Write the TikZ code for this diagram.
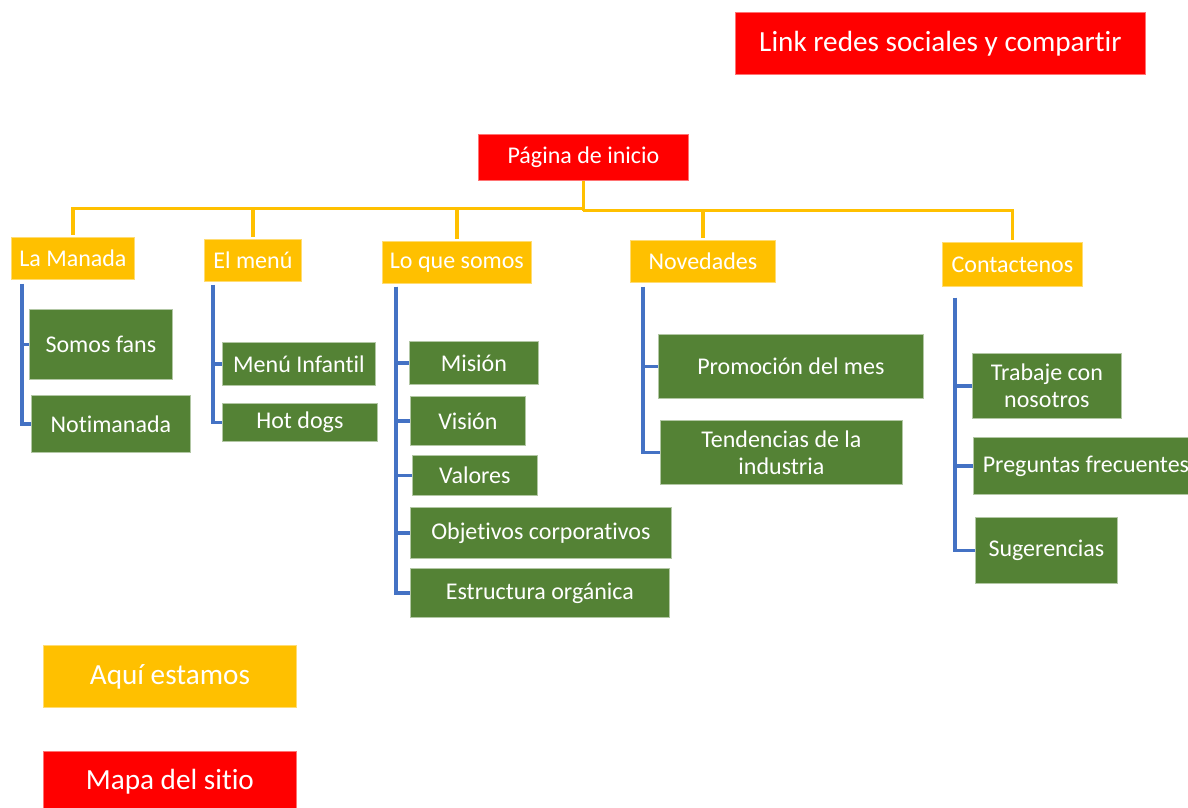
\documentclass[tikz,border=0pt]{standalone}
\usepackage{fontspec}
\setmainfont{Carlito}[Ligatures={NoCommon}]
\definecolor{cRed}{HTML}{FF0000}
\definecolor{cYel}{HTML}{FFC000}
\definecolor{cGrn}{HTML}{548235}
\definecolor{cBlu}{HTML}{4472C4}
\tikzset{
  box/.style={anchor=north west, inner sep=0pt, text=white, align=center, line width=0.8pt,
    font=\fontsize{24}{27}\selectfont},
  rbox/.style={box, fill=cRed, draw=cRed!55!white},
  ybox/.style={box, fill=cYel, draw=cYel!55!white},
  gbox/.style={box, fill=cGrn, draw=cGrn!45!white},
  big/.style={font=\fontsize{29.2}{32}\selectfont},
  yl/.style={draw=cYel, line width=3.2pt},
  bl/.style={draw=cBlu, line width=3.2pt},
}
\begin{document}
\begin{tikzpicture}[x=1pt, y=-1pt]
\useasboundingbox (0,0) rectangle (1188,808);
% top and bottom red/yellow boxes
\node[rbox, big, minimum width=410, minimum height=62] (lr) at (735,12) {Link redes sociales y compartir};
\node[ybox, big, minimum width=253, minimum height=62] (aq) at (43,645) {Aquí estamos};
\node[rbox, big, minimum width=253, minimum height=60] (ms) at (43,751) {Mapa del sitio};
% root
\node[rbox, minimum width=210, minimum height=46] (pi) at (478,134) {Página de inicio};
% level 1
\node[ybox, minimum width=123, minimum height=42] (lm) at (11,237) {La Manada};
\node[ybox, minimum width=97, minimum height=42] (em) at (204,239) {El menú};
\node[ybox, minimum width=149, minimum height=42] (lq) at (382,241) {Lo que somos};
\node[ybox, minimum width=145, minimum height=42] (nv) at (630,240) {Novedades};
\node[ybox, minimum width=140, minimum height=44] (ct) at (942,242) {Contactenos};
% level 2
\node[gbox, minimum width=143, minimum height=70] (sf) at (29,309) {Somos fans};
\node[gbox, minimum width=159, minimum height=57] (nm) at (31,395) {Notimanada};
\node[gbox, minimum width=153, minimum height=43] (mi) at (222,342) {Menú Infantil};
\node[gbox, minimum width=155, minimum height=38] (hd) at (222,403) {Hot dogs};
\node[gbox, minimum width=129, minimum height=43] (mn) at (409,341) {Misión};
\node[gbox, minimum width=115, minimum height=49] (vs) at (410,396) {Visión};
\node[gbox, minimum width=125, minimum height=40] (vl) at (412,455) {Valores};
\node[gbox, minimum width=261, minimum height=51] (oc) at (410,507) {Objetivos corporativos};
\node[gbox, minimum width=259, minimum height=49] (eo) at (410,568) {Estructura orgánica};
\node[gbox, minimum width=265, minimum height=64] (pm) at (658,334) {Promoción del mes};
\node[gbox, minimum width=242, minimum height=64] (td) at (660,420) {Tendencias de la\\industria};
\node[gbox, minimum width=149, minimum height=65] (tc) at (972,353) {Trabaje con\\nosotros};
\node[gbox, minimum width=225, minimum height=57] (pf) at (973,437) {Preguntas frecuentes};
\node[gbox, minimum width=142, minimum height=66] (sg) at (975,517) {Sugerencias};
% yellow bus
\draw[yl] (pi.south) -- ++(0,28) coordinate (hub);
\foreach \c in {lm,em,lq}{\draw[yl] (hub) -| ([yshift=2pt]\c.north);}
\draw[yl] (hub) -- ++(0,2) coordinate (hubR);
\foreach \c in {nv,ct}{\draw[yl] (hubR) -| ([yshift=2pt]\c.north);}
% blue brackets
\draw[bl] ([shift={(11,4)}]lm.south west) |- (sf.west);
\draw[bl] ([shift={(11,4)}]lm.south west) |- (nm.west);
\draw[bl] ([shift={(9,3)}]em.south west) |- (mi.west);
\draw[bl] ([shift={(9,3)}]em.south west) |- (hd.west);
\foreach \c in {mn,vs,vl,oc,eo}{\draw[bl] ([shift={(14,3)}]lq.south west) |- (\c.west);}
\draw[bl] ([shift={(13,4)}]nv.south west) |- (pm.west);
\draw[bl] ([shift={(13,4)}]nv.south west) |- (td.west);
\foreach \c in {tc,pf,sg}{\draw[bl] ([shift={(13,11)}]ct.south west) |- (\c.west);}
\end{tikzpicture}
\end{document}
